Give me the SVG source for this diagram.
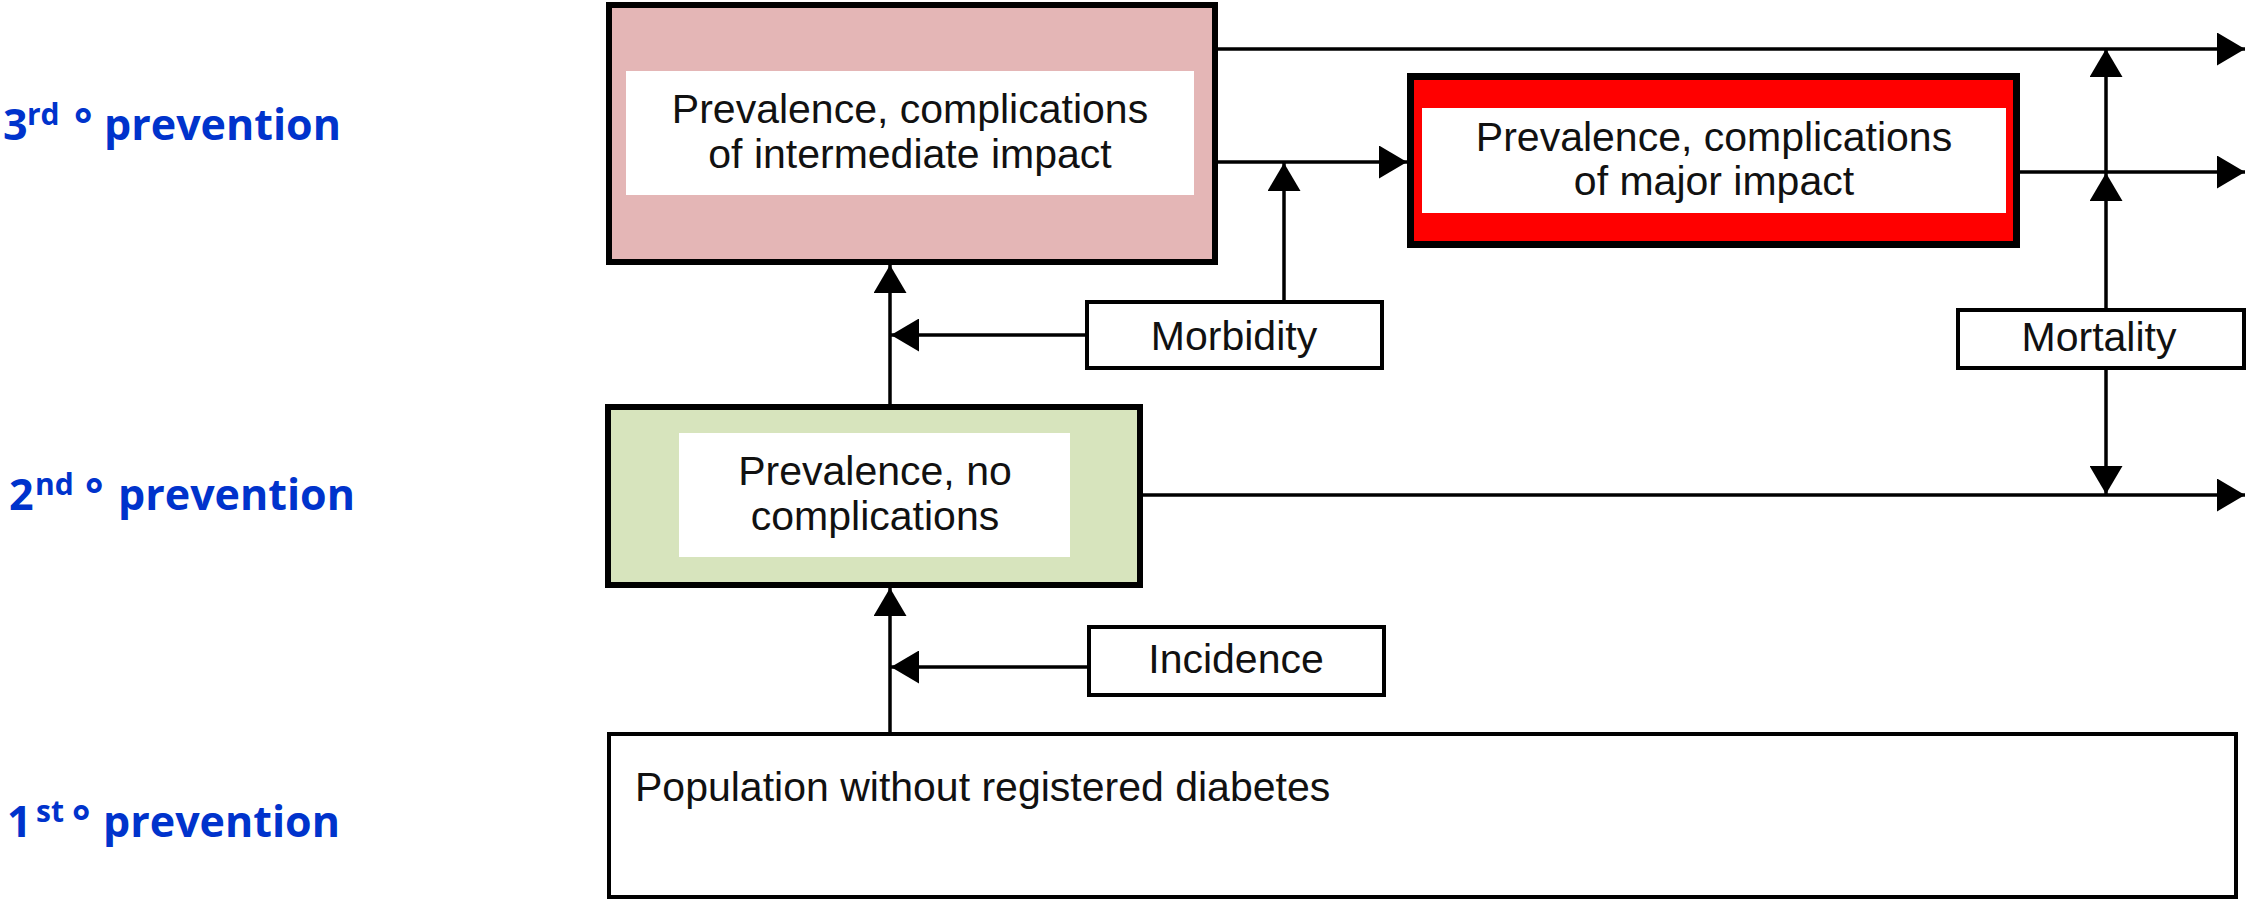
<svg xmlns="http://www.w3.org/2000/svg" width="2248" height="900" viewBox="0 0 2248 900">
<style>
.lbl{font-family:"Open Sans","Liberation Sans",sans-serif;font-weight:bold;fill:#0033CC;font-size:43px}
.sup{font-size:30px}
.t{font-family:"Liberation Sans",Arial,sans-serif;font-size:41px;fill:#111;text-anchor:middle}
.tl{font-family:"Liberation Sans",Arial,sans-serif;font-size:41px;fill:#111}
.box{stroke:#000;stroke-width:4;fill:#fff}
.thick{stroke:#000;stroke-width:6}
.inner{fill:#fff}
.c{stroke:#000;stroke-width:3.5;fill:none}
</style>
<defs>
<marker id="ah" markerUnits="userSpaceOnUse" viewBox="0 0 28 33" refX="28" refY="16.5" markerWidth="28" markerHeight="33" orient="auto">
<path d="M0,0 L28,16.5 L0,33 Z" fill="#000"/>
</marker>
</defs>
<rect width="2248" height="900" fill="#fff"/>

<g id="labels">
<text class="lbl"><tspan x="3" y="140">3</tspan><tspan class="sup" x="27" y="125">rd</tspan><tspan x="74" y="140">°</tspan><tspan x="104" y="140">prevention</tspan></text>
<text class="lbl"><tspan x="9" y="510">2</tspan><tspan class="sup" x="35" y="495">nd</tspan><tspan x="85" y="510">°</tspan><tspan x="118" y="510">prevention</tspan></text>
<text class="lbl"><tspan x="7" y="837">1</tspan><tspan class="sup" x="36" y="822">st</tspan><tspan x="72" y="837">°</tspan><tspan x="103" y="837">prevention</tspan></text>
</g>

<g id="connectors">
<path class="c" d="M1218,49 H2245" marker-end="url(#ah)"/>
<path class="c" d="M1218,162 H1407" marker-end="url(#ah)"/>
<path class="c" d="M2020,172 H2245" marker-end="url(#ah)"/>
<path class="c" d="M1143,495 H2245" marker-end="url(#ah)"/>
<path class="c" d="M1284,300 V163" marker-end="url(#ah)"/>
<path class="c" d="M1085,335 H891" marker-end="url(#ah)"/>
<path class="c" d="M890,404 V265" marker-end="url(#ah)"/>
<path class="c" d="M890,733 V588" marker-end="url(#ah)"/>
<path class="c" d="M1087,667 H891" marker-end="url(#ah)"/>
<path class="c" d="M2106,308 V173 V49" marker-mid="url(#ah)" marker-end="url(#ah)"/>
<path class="c" d="M2106,370 V494" marker-end="url(#ah)"/>
</g>

<g id="node-intermediate">
<rect class="thick" x="609" y="5" width="606" height="257" fill="#E4B6B6"/>
<rect class="inner" x="626" y="71" width="568" height="124"/>
<text class="t" x="910" y="123">Prevalence, complications</text>
<text class="t" x="910" y="168">of intermediate impact</text>
</g>

<g id="node-major">
<rect x="1410.5" y="76.5" width="606" height="168" fill="#FF0000" stroke="#000" stroke-width="7"/>
<rect class="inner" x="1422" y="108" width="584" height="105"/>
<text class="t" x="1714" y="151">Prevalence, complications</text>
<text class="t" x="1714" y="195">of major impact</text>
</g>

<g id="node-nocomp">
<rect class="thick" x="608" y="407" width="532" height="178" fill="#D7E4BD"/>
<rect class="inner" x="679" y="433" width="391" height="124"/>
<text class="t" x="875" y="485">Prevalence, no</text>
<text class="t" x="875" y="530">complications</text>
</g>

<g id="node-morbidity">
<rect class="box" x="1087" y="302" width="295" height="66"/>
<text class="t" x="1234" y="350">Morbidity</text>
</g>

<g id="node-mortality">
<rect class="box" x="1958" y="310" width="286" height="58"/>
<text class="t" x="2099" y="351">Mortality</text>
</g>

<g id="node-incidence">
<rect class="box" x="1089" y="627" width="295" height="68"/>
<text class="t" x="1236" y="673">Incidence</text>
</g>

<g id="node-population">
<rect class="box" x="609" y="734" width="1627" height="163"/>
<text class="tl" x="635" y="801">Population without registered diabetes</text>
</g>
</svg>
